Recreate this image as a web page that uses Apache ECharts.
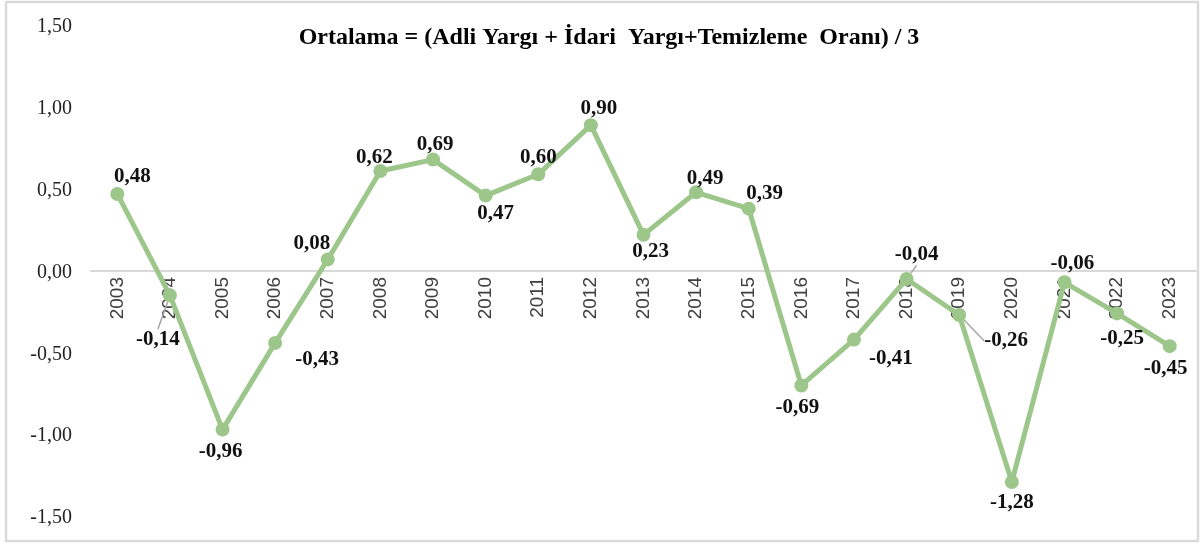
<!DOCTYPE html>
<html>
<head>
<meta charset="utf-8">
<script src="https://cdn.jsdelivr.net/npm/echarts@6/dist/echarts.min.js"></script>
<style>
html,body{margin:0;padding:0;background:#fff;}
#chart{width:1200px;height:545px;}
</style>
</head>
<body>
<div id="chart"></div>
<script>
const titleText = 'Ortalama = (Adli Yargı + İdari  Yargı+Temizleme  Oranı) / 3';
const years = ['2003','2004','2005','2006','2007','2008','2009','2010','2011','2012','2013','2014','2015','2016','2017','2018','2019','2020','2021','2022','2023'];
const values = [0.48,-0.14,-0.96,-0.43,0.08,0.62,0.69,0.47,0.60,0.90,0.23,0.49,0.39,-0.69,-0.41,-0.04,-0.26,-1.28,-0.06,-0.25,-0.45];
const yTicks = {min:-1.5, max:1.5, interval:0.5};

// label placement (style only): [dx, dy] relative to the point
const labelShift = [[15,-17],[-12,44],[-2,22],[42,17],[-16,-16],[-6,-13],[2,-15],[10,18],[0,-17],[8,-17],[7,17],[9,-14],[16,-15],[-4,22],[37,19],[10,-24],[47,26],[0,21],[8,-19],[5,25],[-4,22]];
const withLeader = [1,15,16];

const fmt = v => v.toFixed(2).replace('.', ',');

const chart = echarts.init(document.getElementById('chart'), null, {renderer:'canvas'});
const seriesData = values.map((v,i) => {
  const item = {value: v};
  if (withLeader.indexOf(i) >= 0) {
    item.labelLine = {show:true, lineStyle:{color:'#a6a6a6', width:1.5}};
  }
  return item;
});

chart.setOption({
  animation:false,
  backgroundColor:'#fff',
  title:{
    text:titleText,
    left:604, top:21, textAlign:'center',
    textStyle:{fontFamily:'Liberation Serif', fontWeight:'bold', fontSize:24, color:'#000'}
  },
  graphic:[{
    type:'rect', silent:true, z:-1,
    shape:{x:6, y:2, width:1192, height:539},
    style:{fill:'none', stroke:'#d9d9d9', lineWidth:2.5}
  }],
  grid:{left:91, right:4, top:27, bottom:27, containLabel:false, outerBoundsMode:'none'},
  xAxis:{
    type:'category',
    data:years,
    boundaryGap:true,
    position:'bottom',
    offset:-247,
    axisLine:{show:true, onZero:false, lineStyle:{color:'#d9d9d9', width:2}},
    axisTick:{show:false},
    splitLine:{show:false},
    axisLabel:{rotate:90, margin:6, fontFamily:'Liberation Sans Narrow, Liberation Sans', fontSize:19, color:'#404040'}
  },
  yAxis:{
    type:'value',
    min:yTicks.min, max:yTicks.max, interval:yTicks.interval,
    axisLine:{show:false}, axisTick:{show:false}, splitLine:{show:false},
    axisLabel:{margin:19, formatter:v => fmt(v), fontFamily:'Liberation Serif', fontSize:20, color:'#222'}
  },
  series:[{
    type:'line',
    data:seriesData,
    symbol:'circle',
    symbolSize:14,
    itemStyle:{color:'#9dc68a'},
    lineStyle:{color:'#9dc68a', width:5},
    label:{
      show:true, position:'inside',
      formatter:p => fmt(p.value),
      fontFamily:'Liberation Serif', fontWeight:'bold', fontSize:21, color:'#111'
    },
    labelLayout:function(p){
      const s = labelShift[p.dataIndex];
      return {dx:s[0], dy:s[1]};
    }
  }]
});
</script>
</body>
</html>
